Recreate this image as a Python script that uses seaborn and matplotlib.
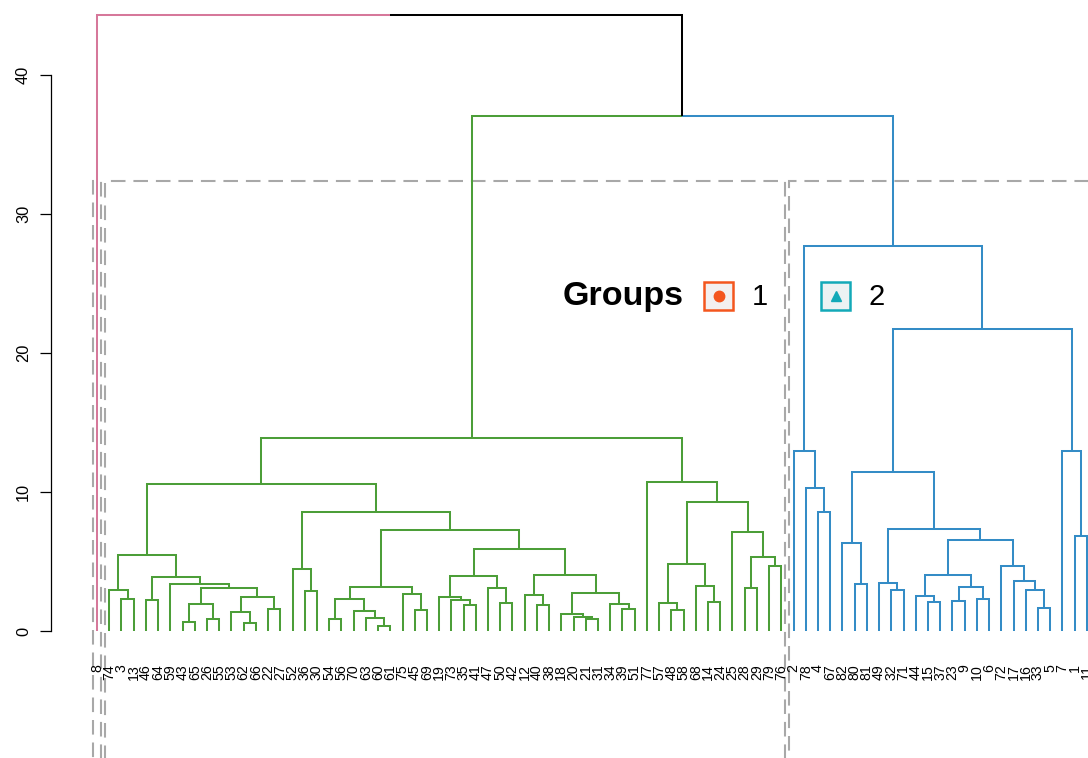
import matplotlib
matplotlib.use("Agg")
import matplotlib.pyplot as plt
import seaborn as sns
from matplotlib.patches import Rectangle

sns.set_theme(style="white")
plt.rcParams["font.family"] = ["Liberation Sans", "DejaVu Sans"]

# Leaf labels in dendrogram order (left to right)
leaf_labels = [
    "8",
    "74", "3", "13", "46", "64", "59", "43", "65", "26", "55", "53", "62", "66", "22",
    "27", "52", "36", "30", "54", "56", "70", "63", "60", "61", "75", "45", "69", "19",
    "73", "35", "41", "47", "50", "42", "12", "40", "38", "18", "20", "21", "31", "34",
    "39", "51", "77", "57", "48", "58", "68", "14", "24", "25", "28", "29", "79", "76",
    "2", "78", "4", "67", "82", "80", "81", "49", "32", "71", "44", "15", "37", "23",
    "9", "10", "6", "72", "17", "16", "33", "5", "7", "1", "11",
]

# Merge tree: (height, left, right); integers are leaf positions
green_left = (10.58,
              (5.47,
               (2.95, 1, (2.30, 2, 3)),
               (3.90,
                (2.23, 4, 5),
                (3.38, 6,
                 (3.12,
                  (1.94, (0.67, 7, 8), (0.86, 9, 10)),
                  (2.47, (1.39, 11, (0.60, 12, 13)), (1.56, 14, 15)))))),
              (8.58,
               (4.44, 16, (2.90, 17, 18)),
               (7.27,
                (3.14,
                 (2.28, (0.89, 19, 20), (1.41, 21, (0.91, 22, (0.38, 23, 24)))),
                 (2.66, 25, (1.51, 26, 27))),
                (5.90,
                 (3.98,
                  (2.47, 28, (2.23, 29, (1.87, 30, 31))),
                  (3.07, 32, (2.04, 33, 34))),
                 (4.03,
                  (2.61, 35, (1.87, 36, 37)),
                  (2.73,
                   (1.20, 38, (1.03, 39, (0.89, 40, 41))),
                   (1.92, 42, (1.58, 43, 44))))))))

green_right = (10.70, 45,
               (9.26,
                (4.82,
                 (1.99, 46, (1.49, 47, 48)),
                 (3.26, 49, (2.06, 50, 51))),
                (7.15, 52,
                 (5.35, (3.07, 53, 54), (4.68, 55, 56)))))

blue_left = (12.95, 57, (10.26, 58, (8.54, 59, 60)))

blue_middle = (11.46,
               (6.31, 61, (3.36, 62, 63)),
               (7.34,
                (3.48, 64, (2.95, 65, 66)),
                (6.55,
                 (4.00,
                  (2.54, 67, (2.06, 68, 69)),
                  (3.19, (2.18, 70, 71), (2.28, 72, 73))),
                 (4.70, 74, (3.62, 75, (2.95, 76, (1.68, 77, 78)))))))

blue_right = (12.93, 79, (6.86, 80, 81))

green_branch = (13.86, green_left, green_right)
blue_branch = (27.70, blue_left, (21.73, blue_middle, blue_right))
root = (44.30, 0, (37.05, green_branch, blue_branch))

branch_colors = ["#D6789A", "#4C9E38", "#348CC6"]
rect_color = "#A8A8A8"

group_names = ["1", "2"]
group_colors = ["#F4561E", "#13A9B8"]


def is_leaf(node):
    return isinstance(node, int)


def node_height(node):
    return 0.0 if is_leaf(node) else node[0]


def all_heights(node):
    if is_leaf(node):
        return []
    return [node[0]] + all_heights(node[1]) + all_heights(node[2])


def leaf_span(node):
    if is_leaf(node):
        return node, node
    a0, a1 = leaf_span(node[1])
    b0, b1 = leaf_span(node[2])
    return min(a0, b0), max(a1, b1)


heights = sorted(all_heights(root), reverse=True)
k = 3
cut_height = (heights[k - 2] + heights[k - 1]) / 2

# Figure / axes
W, H, DPI = 1088, 758, 100
fig = plt.figure(figsize=(W / DPI, H / DPI), dpi=DPI)
fig.patch.set_facecolor("white")
ax = fig.add_axes([50.7 / W, 0.0, 1 - 50.7 / W, 1.0])
ax.set_facecolor("white")

step_px = 12.22
ax.set_xlim((50.7 - 97) / step_px, (W - 97) / step_px)
unit_px = 13.9
ax.set_ylim((631 - H) / unit_px, 631 / unit_px)

colors_iter = iter(branch_colors)
cluster_spans = []
lw = 1.45


def draw(node, color):
    if color is None and node_height(node) < cut_height:
        color = next(colors_iter)
        cluster_spans.append(leaf_span(node))
    if is_leaf(node):
        return float(node), 0.0, color
    h, a, b = node
    xa, ha, ca = draw(a, color)
    xb, hb, cb = draw(b, color)
    xm = (xa + xb) / 2
    for x, hc, c in ((xa, ha, ca), (xb, hb, cb)):
        ax.plot([x, x, xm], [hc, h, h], color=c if c else "black",
                lw=lw, solid_joinstyle="miter", solid_capstyle="butt", zorder=3)
    return xm, h, color


draw(root, None)

# Cluster rectangles
ybot = ax.get_ylim()[0] - 1
for lo, hi in cluster_spans:
    r = Rectangle((lo - 0.34, ybot), (hi + 0.33) - (lo - 0.34), cut_height - ybot,
                  fill=False, ec=rect_color, lw=1.5, zorder=2)
    r.set_linestyle((0, (7.0, 3.8)))
    ax.add_patch(r)

# Leaf labels
for i, lab in enumerate(leaf_labels):
    ax.text(i, -2.4, lab, rotation=90, ha="center", va="top",
            fontsize=10.2, color="black")

# Axis styling
for s in ["top", "right", "bottom"]:
    ax.spines[s].set_visible(False)
ax.spines["left"].set_bounds(0, 40)
ax.spines["left"].set_color("black")
ax.spines["left"].set_linewidth(0.9)
ax.set_xticks([])
ax.set_yticks([0, 10, 20, 30, 40])
ax.tick_params(axis="y", left=True, length=7.7, width=0.9, color="black",
               pad=6.5, labelsize=11.8, labelcolor="black")
for t in ax.get_yticklabels():
    t.set_rotation(90)
    t.set_va("center")
ax.grid(False)

# Legend
def fx(px):
    return px / W


def fy(py):
    return 1 - py / H


fig.text(fx(563), fy(297), "Groups", fontsize=24.5, fontweight="bold",
         ha="left", va="center", color="black")
box_x = [704, 821]
text_x = [760, 877]
markers = ["o", "^"]
for gx, tx, name, col, mk in zip(box_x, text_x, group_names, group_colors, markers):
    tint = sns.light_palette(col, n_colors=12)[0]
    fig.add_artist(Rectangle((fx(gx), fy(310)), fx(29), 28 / H, transform=fig.transFigure,
                             fc=tint, ec=col, lw=1.8))
    fig.add_artist(plt.Line2D([fx(gx + 14.5)], [fy(296)], marker=mk, markersize=7.5,
                              color=col, mec=col, transform=fig.transFigure))
    fig.text(fx(tx), fy(297), name, fontsize=21, ha="center", va="center", color="black")

fig.savefig("out.png", dpi=DPI, facecolor="white")
